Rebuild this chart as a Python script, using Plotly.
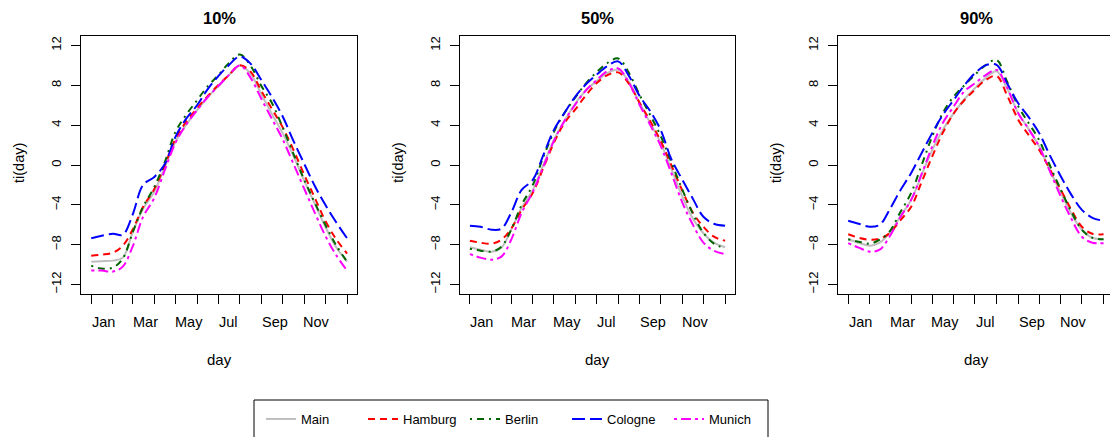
import plotly.graph_objects as go

# ---------------- data ----------------
days = [1, 16, 32, 46, 60, 75, 91, 106, 121, 136, 152, 167, 182, 197, 213,
        228, 244, 259, 274, 289, 305, 320, 335, 350, 366]

panel_titles = ["10%", "50%", "90%"]
series_names = ["Main", "Hamburg", "Berlin", "Cologne", "Munich"]

month_starts = [1, 32, 60, 91, 121, 152, 182, 213, 244, 274, 305, 335, 366]
month_label_pos = [18, 78, 140, 197, 263, 323]
month_labels = ["Jan", "Mar", "May", "Jul", "Sep", "Nov"]
y_ticks = [-12, -8, -4, 0, 4, 8, 12]
y_tick_text = ["\u221212", "\u22128", "\u22124", "0", "4", "8", "12"]

# 10%
main_10 = [-9.7, -9.65, -9.6, -9.3, -6.8, -4.4, -2.7, -0.2, 2.3, 4.0, 5.5, 6.8, 7.9, 9.0, 10.0,
           9.2, 7.05, 5.1, 3.2, 1.0, -1.6, -3.9, -6.2, -8.2, -9.7]
hamburg_10 = [-9.1, -9.0, -8.8, -8.1, -6.5, -4.2, -2.4, 0.0, 2.6, 4.3, 5.7, 6.9, 8.0, 9.0, 10.0,
              9.4, 7.4, 5.6, 3.8, 1.6, -1.0, -3.3, -5.6, -7.4, -8.9]
berlin_10 = [-10.1, -10.4, -10.3, -9.4, -6.8, -4.2, -2.2, 0.3, 3.3, 5.0, 6.5, 7.9, 9.0, 10.2, 11.1,
             10.0, 7.9, 6.2, 3.8, 1.2, -1.5, -3.8, -6.0, -8.0, -9.7]
cologne_10 = [-7.35, -7.1, -6.9, -7.0, -5.0, -2.0, -1.2, 0.1, 2.8, 4.6, 6.0, 7.6, 8.9, 10.0, 10.9,
              10.2, 8.5, 6.8, 4.9, 2.5, 0.1, -2.1, -4.0, -5.7, -7.35]
munich_10 = [-10.6, -10.6, -10.7, -10.2, -8.2, -5.2, -3.3, -0.5, 2.2, 4.0, 5.5, 6.8, 7.9, 9.0, 10.0,
             8.8, 6.6, 4.6, 2.6, 0.2, -2.4, -4.8, -7.1, -9.0, -10.6]

# 50%
main_50 = [-8.25, -8.5, -8.7, -8.3, -6.5, -4.3, -2.5, 0.0, 2.5, 4.4, 6.2, 7.5, 8.4, 9.2, 9.55,
           8.4, 6.2, 4.2, 2.2, -0.4, -3.2, -5.4, -6.85, -7.8, -8.25]
hamburg_50 = [-7.6, -7.8, -7.9, -7.5, -6.4, -4.5, -2.8, -0.3, 2.2, 4.2, 5.6, 7.0, 8.2, 9.0, 9.3,
              8.2, 6.2, 4.4, 2.4, 0.0, -2.6, -4.8, -6.2, -7.2, -7.6]
berlin_50 = [-8.4, -8.6, -8.7, -8.2, -6.5, -4.0, -2.0, 0.8, 3.3, 5.2, 6.8, 8.2, 9.3, 10.2, 10.7,
             9.3, 7.0, 5.0, 2.9, 0.3, -2.5, -4.9, -6.8, -7.9, -8.35]
cologne_50 = [-6.1, -6.2, -6.5, -6.4, -4.8, -2.5, -1.5, 1.0, 3.5, 5.2, 6.9, 8.1, 9.05, 9.9, 10.4,
              9.0, 6.9, 5.4, 3.5, 0.6, -1.5, -3.4, -5.2, -5.9, -6.1]
munich_50 = [-8.95, -9.3, -9.5, -9.2, -7.5, -4.8, -2.7, -0.2, 2.4, 4.4, 6.1, 7.5, 8.5, 9.4, 9.7,
             8.3, 6.0, 4.0, 1.9, -0.8, -3.8, -6.0, -7.8, -8.6, -8.95]

# 90%
main_90 = [-7.45, -7.8, -8.1, -7.8, -6.85, -5.2, -3.5, -1.0, 1.5, 3.5, 5.2, 6.6, 7.7, 8.7, 9.4,
           7.7, 5.2, 3.6, 1.85, -0.5, -2.8, -4.9, -6.5, -7.3, -7.45]
hamburg_90 = [-6.95, -7.3, -7.5, -7.4, -6.85, -5.6, -4.2, -1.7, 0.85, 3.2, 5.2, 6.5, 7.55, 8.5, 8.95,
              7.0, 4.55, 3.0, 1.5, -0.4, -2.5, -4.5, -6.2, -6.9, -6.95]
berlin_90 = [-7.45, -7.7, -7.9, -7.5, -6.7, -4.8, -2.8, 0.0, 2.85, 5.2, 6.9, 8.0, 9.05, 10.0, 10.55,
             8.4, 5.9, 4.2, 2.5, 0.0, -2.5, -4.7, -6.5, -7.3, -7.45]
cologne_90 = [-5.6, -5.9, -6.2, -6.0, -4.5, -2.6, -0.8, 1.2, 3.2, 5.0, 6.55, 8.0, 9.2, 10.0, 10.05,
              8.2, 6.2, 4.8, 3.2, 1.0, -1.15, -3.0, -4.5, -5.3, -5.6]
munich_90 = [-7.85, -8.3, -8.7, -8.5, -7.2, -5.3, -3.5, -0.9, 1.85, 4.2, 5.9, 7.4, 8.2, 9.0, 9.55,
             7.8, 5.2, 3.6, 1.85, -0.6, -3.2, -5.4, -7.2, -7.8, -7.85]

panels = [
    [main_10, hamburg_10, berlin_10, cologne_10, munich_10],
    [main_50, hamburg_50, berlin_50, cologne_50, munich_50],
    [main_90, hamburg_90, berlin_90, cologne_90, munich_90],
]

# ---------------- style ----------------
W, H = 1110, 437
colors = ["#BEBEBE", "#FF0000", "#006400", "#0000FF", "#FF00FF"]
dashes = ["solid", "7px,5px", "2px,5px,7px,5px", "13px,5px", "3px,4px,10px,4px"]
FONT = "Liberation Sans, Arial, Helvetica, sans-serif"

# panel boxes in pixels (left, right)
box_lr = [(81.0, 357.3), (459.7, 735.3), (838.0, 1110.0)]
box_top, box_bot = 36.0, 294.0
x_ranges = [[-13.6, 380.6], [-13.6, 380.6], [-13.6, 375.2]]
y_range = [-12.95, 12.95]


def px(x):
    return x / W


def py(y):
    return 1 - y / H


fig = go.Figure()

for p, series in enumerate(panels):
    xa = "x" if p == 0 else f"x{p+1}"
    ya = "y" if p == 0 else f"y{p+1}"
    for s, vals in enumerate(series):
        fig.add_trace(go.Scatter(
            x=days, y=vals, mode="lines", name=series_names[s],
            legendgroup=series_names[s], showlegend=(p == 0),
            line=dict(color=colors[s], width=2, dash=dashes[s], shape="spline", smoothing=1.0),
            xaxis=xa, yaxis=ya, hoverinfo="skip",
        ))

layout = dict(
    width=W, height=H,
    margin=dict(l=0, r=0, t=0, b=0),
    paper_bgcolor="white", plot_bgcolor="white",
    font=dict(family=FONT, size=13, color="black"),
    showlegend=True,
    legend=dict(orientation="h", x=px(261), xanchor="left", y=py(419), yanchor="middle",
                bgcolor="rgba(0,0,0,0)", borderwidth=0, font=dict(size=13),
                entrywidth=57, entrywidthmode="pixels", itemwidth=30),
)

annotations = []
shapes = []
for p in range(3):
    xk = "xaxis" if p == 0 else f"xaxis{p+1}"
    yk = "yaxis" if p == 0 else f"yaxis{p+1}"
    xr = "x" if p == 0 else f"x{p+1}"
    yr = "y" if p == 0 else f"y{p+1}"
    l, r = box_lr[p]
    layout[xk] = dict(
        domain=[px(l), px(r)], range=x_ranges[p], anchor=yr,
        tickmode="array", tickvals=month_starts, showticklabels=False,
        ticks="outside", ticklen=9, tickwidth=1, tickcolor="black",
        showline=True, linecolor="black", linewidth=1, mirror=True,
        showgrid=False, zeroline=False, fixedrange=True,
    )
    layout[yk] = dict(
        domain=[py(box_bot), py(box_top)], range=y_range, anchor=xr,
        tickmode="array", tickvals=y_ticks, ticktext=y_tick_text, tickangle=-90,
        ticks="outside", ticklen=9, tickwidth=1, tickcolor="black",
        tickfont=dict(size=13), ticklabelstandoff=5,
        showline=True, linecolor="black", linewidth=1, mirror=(p < 2),
        showgrid=False, zeroline=False, fixedrange=True,
    )
    for pos, lab in zip(month_label_pos, month_labels):
        annotations.append(dict(x=pos, y=py(322), xref=xr, yref="paper", text=lab,
                                showarrow=False, font=dict(size=14.5), xanchor="center", yanchor="middle"))
    cx = px((l + (l + 276.0)) / 2)
    annotations.append(dict(x=cx, y=py(359), xref="paper", yref="paper", text="day",
                            showarrow=False, font=dict(size=15), xanchor="center", yanchor="middle"))
    annotations.append(dict(x=px(l - 62), y=py(163), xref="paper", yref="paper", text="ti(day)",
                            textangle=-90, showarrow=False, font=dict(size=14.5),
                            xanchor="center", yanchor="middle"))
    annotations.append(dict(x=cx, y=py(18), xref="paper", yref="paper",
                            text="<b>" + panel_titles[p] + "</b>",
                            showarrow=False, font=dict(size=16.5), xanchor="center", yanchor="middle"))

shapes.append(dict(type="rect", xref="paper", yref="paper", x0=px(254), x1=px(768),
                   y0=py(445), y1=py(400), line=dict(color="black", width=1),
                   fillcolor="rgba(0,0,0,0)"))

layout["annotations"] = annotations
layout["shapes"] = shapes
fig.update_layout(**layout)

fig.write_html("out.html", include_plotlyjs=True, config={"displayModeBar": False})
